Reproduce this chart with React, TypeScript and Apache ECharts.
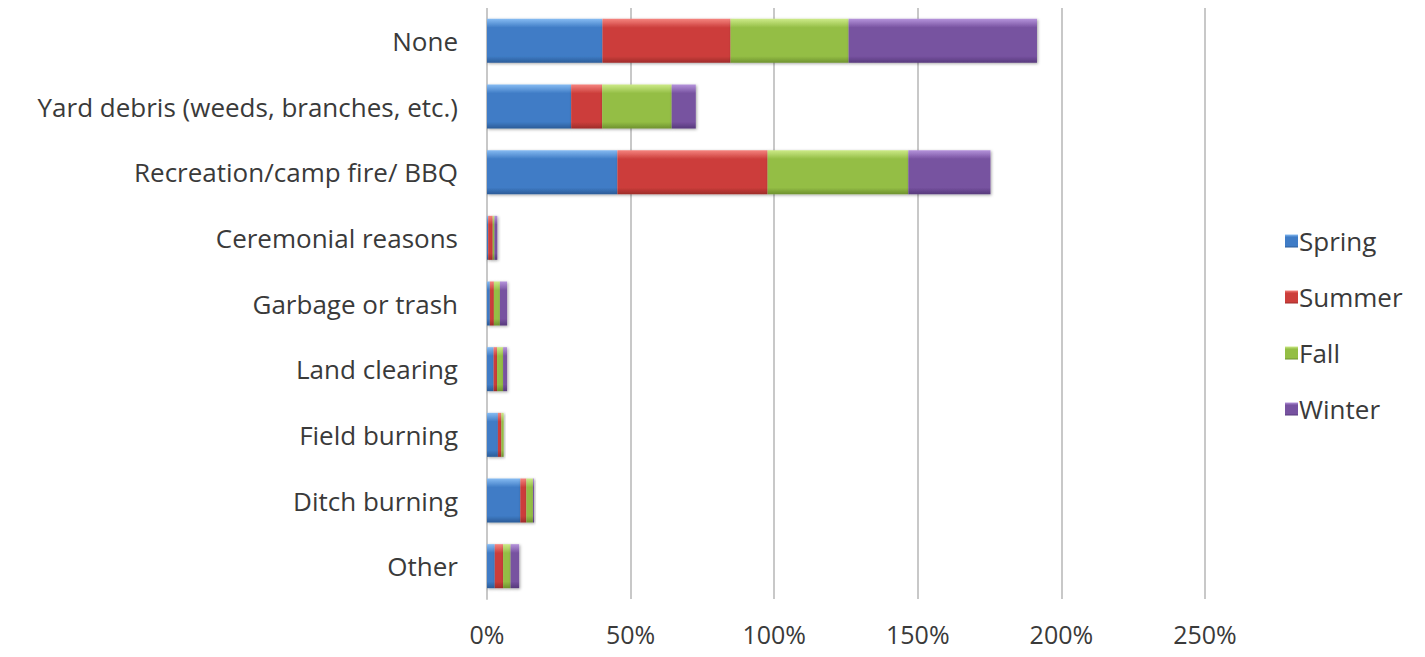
import React, { useEffect, useRef } from "react";
import * as echarts from "echarts";

const categories = [
  "None",
  "Yard debris (weeds, branches, etc.)",
  "Recreation/camp fire/ BBQ",
  "Ceremonial reasons",
  "Garbage or trash",
  "Land clearing",
  "Field burning",
  "Ditch burning",
  "Other",
];
const seriesNames = ["Spring", "Summer", "Fall", "Winter"];
const spring = [40.2, 29.3, 45.4, 0.4, 1.0, 2.3, 3.8, 11.6, 2.7];
const summer = [44.6, 10.8, 52.3, 1.6, 1.4, 1.2, 1.2, 2.1, 2.9];
const fall = [41.1, 24.2, 49.0, 0.6, 2.1, 2.1, 0.8, 2.3, 2.6];
const winter = [65.6, 8.4, 28.6, 1.0, 2.5, 1.4, 0.0, 0.4, 3.0];
const xTicks = [0, 50, 100, 150, 200, 250];

const baseColors = ["#3F7CC6", "#CC3E3B", "#94BE45", "#7752A0"];
const lightColors = ["#86BBF2", "#F5847F", "#CDEA88", "#B593DB"];
const darkColors = ["#2C5C98", "#9E2C2A", "#6F9230", "#573A7C"];

export default function App() {
  const ref = useRef<HTMLDivElement>(null);
  useEffect(() => {
    const chart = echarts.init(ref.current!, null, { renderer: "svg" });
    const data = [spring, summer, fall, winter];
    const font = "Open Sans";
    chart.setOption({
      animation: false,
      textStyle: { fontFamily: font },
      grid: { left: 479, right: 212, top: 0, bottom: 50, containLabel: false },
      legend: {
        orient: "vertical",
        left: 1272,
        top: 215,
        itemWidth: 13,
        itemHeight: 13,
        itemGap: 30,
        icon: "rect",
        textStyle: { fontSize: 26, color: "#3a3a3a", fontFamily: font, padding: [0, 0, 0, -4] },
        data: seriesNames,
      },
      xAxis: {
        type: "value",
        min: xTicks[0],
        max: xTicks[xTicks.length - 1],
        interval: 50,
        axisLabel: {
          formatter: (v: number) => v + "%",
          fontSize: 25,
          color: "#3a3a3a",
          margin: 22,
          fontFamily: font,
        },
        splitLine: { show: true, lineStyle: { color: "#C8C8C8", width: 2 } },
        axisLine: { show: false },
        axisTick: { show: false },
      },
      yAxis: {
        type: "category",
        inverse: true,
        data: categories,
        axisLabel: { fontSize: 26, color: "#3a3a3a", margin: 29, fontFamily: font },
        axisLine: { show: true, lineStyle: { color: "#C8C8C8", width: 2 } },
        axisTick: { show: false },
      },
      series: seriesNames.map((name, i) => ({
        name,
        type: "bar",
        stack: "total",
        barWidth: 44,
        data: data[i],
        itemStyle: {
          color: new echarts.graphic.LinearGradient(0, 0, 0, 1, [
            { offset: 0, color: lightColors[i] },
            { offset: 0.2, color: baseColors[i] },
            { offset: 0.85, color: baseColors[i] },
            { offset: 1, color: darkColors[i] },
          ]),
          shadowColor: "rgba(0,0,0,0.35)",
          shadowBlur: 3,
          shadowOffsetX: 1,
          shadowOffsetY: 1,
        },
      })),
      color: baseColors,
    });
    return () => chart.dispose();
  }, []);
  return <div ref={ref} style={{ width: 1409, height: 641 }} />;
}
